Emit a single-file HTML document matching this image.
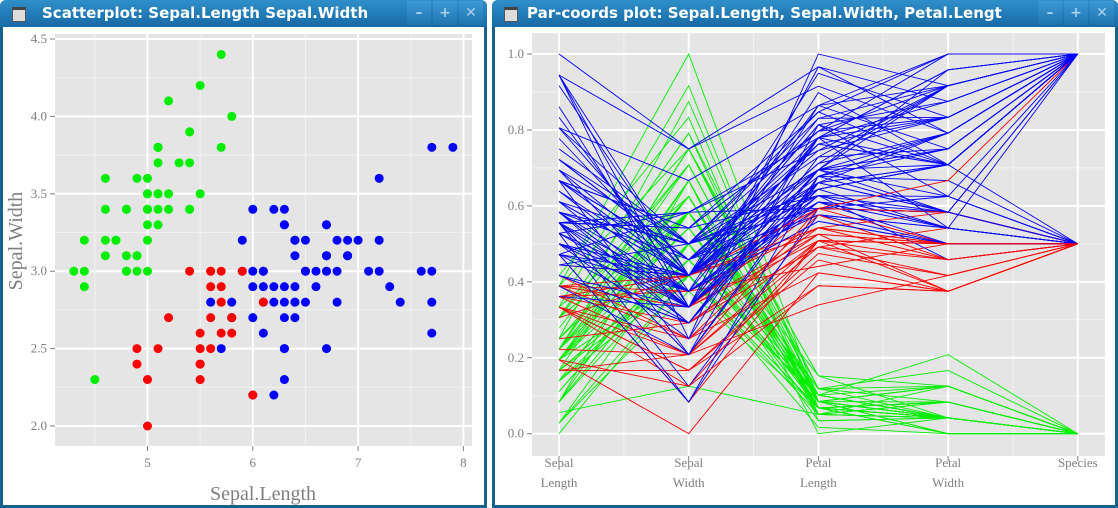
<!DOCTYPE html>
<html><head><meta charset="utf-8"><style>
body{margin:0;width:1118px;height:508px;background:#fff;overflow:hidden;position:relative;font-family:"Liberation Sans",sans-serif}
.win{position:absolute;top:0;height:508px;background:#fff;box-sizing:border-box;border:3px solid #16628f;border-top:none;border-radius:6px 6px 0 0}
.tb{position:absolute;left:-3px;right:-3px;top:0;height:27px;background:linear-gradient(#2f8fca,#176aa6);border-radius:6px 6px 0 0;color:#fff;font:bold 15px "DejaVu Sans",sans-serif;line-height:27px;white-space:nowrap;overflow:hidden}
.ic{position:absolute;left:12px;top:7px;width:12px;height:11px;background:#ddd;border:1px solid #555;border-top:3px solid #444}
.btns{position:absolute;right:4px;top:1px;height:24px;display:flex}
.btns div{width:24px;height:24px;margin-left:2px;background:linear-gradient(#3c9ad4,#1f74b0);color:#a9d0ec;text-align:center;line-height:24px;font-size:14px}
svg{position:absolute;left:0;top:0}
</style></head><body>
<div class="win" style="left:0;width:487px">
<div class="tb"><div class="ic"></div><span style="position:absolute;left:42px">Scatterplot: Sepal.Length Sepal.Width</span>
<div class="btns"><div>–</div><div>+</div><div>✕</div></div></div>
</div>
<div class="win" style="left:492px;width:626px">
<div class="tb"><div class="ic"></div><span style="position:absolute;left:35px">Par-coords plot: Sepal.Length, Sepal.Width, Petal.Lengt</span>
<div class="btns"><div>–</div><div>+</div><div>✕</div></div></div>
</div>
<svg id="s" width="1118" height="508"></svg>
<script>
const sepalLength=[5.1,4.9,4.7,4.6,5.0,5.4,4.6,5.0,4.4,4.9,5.4,4.8,4.8,4.3,5.8,5.7,5.4,5.1,5.7,5.1,5.4,5.1,4.6,5.1,4.8,5.0,5.0,5.2,5.2,4.7,4.8,5.4,5.2,5.5,4.9,5.0,5.5,4.9,4.4,5.1,5.0,4.5,4.4,5.0,5.1,4.8,5.1,4.6,5.3,5.0,
7.0,6.4,6.9,5.5,6.5,5.7,6.3,4.9,6.6,5.2,5.0,5.9,6.0,6.1,5.6,6.7,5.6,5.8,6.2,5.6,5.9,6.1,6.3,6.1,6.4,6.6,6.8,6.7,6.0,5.7,5.5,5.5,5.8,6.0,5.4,6.0,6.7,6.3,5.6,5.5,5.5,6.1,5.8,5.0,5.6,5.7,5.7,6.2,5.1,5.7,
6.3,5.8,7.1,6.3,6.5,7.6,4.9,7.3,6.7,7.2,6.5,6.4,6.8,5.7,5.8,6.4,6.5,7.7,7.7,6.0,6.9,5.6,7.7,6.3,6.7,7.2,6.2,6.1,6.4,7.2,7.4,7.9,6.4,6.3,6.1,7.7,6.3,6.4,6.0,6.9,6.7,6.9,5.8,6.8,6.7,6.7,6.3,6.5,6.2,5.9];
const sepalWidth=[3.5,3.0,3.2,3.1,3.6,3.9,3.4,3.4,2.9,3.1,3.7,3.4,3.0,3.0,4.0,4.4,3.9,3.5,3.8,3.8,3.4,3.7,3.6,3.3,3.4,3.0,3.4,3.5,3.4,3.2,3.1,3.4,4.1,4.2,3.1,3.2,3.5,3.6,3.0,3.4,3.5,2.3,3.2,3.5,3.8,3.0,3.8,3.2,3.7,3.3,
3.2,3.2,3.1,2.3,2.8,2.8,3.3,2.4,2.9,2.7,2.0,3.0,2.2,2.9,2.9,3.1,3.0,2.7,2.2,2.5,3.2,2.8,2.5,2.8,2.9,3.0,2.8,3.0,2.9,2.6,2.4,2.4,2.7,2.7,3.0,3.4,3.1,2.3,3.0,2.5,2.6,3.0,2.6,2.3,2.7,3.0,2.9,2.9,2.5,2.8,
3.3,2.7,3.0,2.9,3.0,3.0,2.5,2.9,2.5,3.6,3.2,2.7,3.0,2.5,2.8,3.2,3.0,3.8,2.6,2.2,3.2,2.8,2.8,2.7,3.3,3.2,2.8,3.0,2.8,3.0,2.8,3.8,2.8,2.8,2.6,3.0,3.4,3.1,3.0,3.1,3.1,3.1,2.7,3.2,3.3,3.0,2.5,3.0,3.4,3.0];
const petalLength=[1.4,1.4,1.3,1.5,1.4,1.7,1.4,1.5,1.4,1.5,1.5,1.6,1.4,1.1,1.2,1.5,1.3,1.4,1.7,1.5,1.7,1.5,1.0,1.7,1.9,1.6,1.6,1.5,1.4,1.6,1.6,1.5,1.5,1.4,1.5,1.2,1.3,1.4,1.3,1.5,1.3,1.3,1.3,1.6,1.9,1.4,1.6,1.4,1.5,1.4,
4.7,4.5,4.9,4.0,4.6,4.5,4.7,3.3,4.6,3.9,3.5,4.2,4.0,4.7,3.6,4.4,4.5,4.1,4.5,3.9,4.8,4.0,4.9,4.7,4.3,4.4,4.8,5.0,4.5,3.5,3.8,3.7,3.9,5.1,4.5,4.5,4.7,4.4,4.1,4.0,4.4,4.6,4.0,3.3,4.2,4.2,4.2,4.3,3.0,4.1,
6.0,5.1,5.9,5.6,5.8,6.6,4.5,6.3,5.8,6.1,5.1,5.3,5.5,5.0,5.1,5.3,5.5,6.7,6.9,5.0,5.7,4.9,6.7,4.9,5.7,6.0,4.8,4.9,5.6,5.8,6.1,6.4,5.6,5.1,5.6,6.1,5.6,5.5,4.8,5.4,5.6,5.1,5.1,5.9,5.7,5.2,5.0,5.2,5.4,5.1];
const petalWidth=[0.2,0.2,0.2,0.2,0.2,0.4,0.3,0.2,0.2,0.1,0.2,0.2,0.1,0.1,0.2,0.4,0.4,0.3,0.3,0.3,0.2,0.4,0.2,0.5,0.2,0.2,0.4,0.2,0.2,0.2,0.2,0.4,0.1,0.2,0.2,0.2,0.2,0.1,0.2,0.2,0.3,0.3,0.2,0.6,0.4,0.3,0.2,0.2,0.2,0.2,
1.4,1.5,1.5,1.3,1.5,1.3,1.6,1.0,1.3,1.4,1.0,1.5,1.0,1.4,1.3,1.4,1.5,1.0,1.5,1.1,1.8,1.3,1.5,1.2,1.3,1.4,1.4,1.7,1.5,1.0,1.1,1.0,1.2,1.6,1.5,1.6,1.5,1.3,1.3,1.3,1.2,1.4,1.2,1.0,1.3,1.2,1.3,1.3,1.1,1.3,
2.5,1.9,2.1,1.8,2.2,2.1,1.7,1.8,1.8,2.5,2.0,1.9,2.1,2.0,2.4,2.3,1.8,2.2,2.3,1.5,2.3,2.0,2.0,1.8,2.1,1.8,1.8,1.8,2.1,1.6,1.9,2.0,2.2,1.5,1.4,2.3,2.4,1.8,1.8,2.1,2.4,2.3,1.9,2.3,2.5,2.3,1.9,2.0,2.3,1.8];
const species=[];for(let i=0;i<150;i++)species.push(i<50?0:i<100?1:2);
const xTicks=[5,6,7,8], yTicks=[2.0,2.5,3.0,3.5,4.0,4.5], pTicks=[0,0.2,0.4,0.6,0.8,1.0];
const axisNames=[["Sepal","Length"],["Sepal","Width"],["Petal","Length"],["Petal","Width"],["Species",""]];

const NS="http://www.w3.org/2000/svg", svg=document.getElementById('s');
function mk(t,a,p){const e=document.createElementNS(NS,t);for(const k in a)e.setAttribute(k,a[k]);(p||svg).appendChild(e);return e;}
function color(i){if(species[i]===0)return '#00ee00';
 const sl=sepalLength[i],pl=petalLength[i];
 if(sl<=6.1&&pl<=4.5&&!(sl>=6.0&&pl>=4.5))return '#ff0000';return '#0000ff';}
const tf='"Liberation Serif",serif';
// scatter
const sx=v=>147.5+(v-5)*105.3, sy=v=>426-(v-2)*154.8;
let g=mk('g',{});
mk('rect',{x:55,y:34,width:417,height:412,fill:'#e5e5e5'},g);
for(let v=4.5;v<8.3;v+=1){mk('line',{x1:sx(v),x2:sx(v),y1:34,y2:446,stroke:'#f2f2f2','stroke-width':1},g);}
for(let v=2.25;v<4.6;v+=0.5){mk('line',{x1:55,x2:472,y1:sy(v),y2:sy(v),stroke:'#f2f2f2','stroke-width':1},g);}
xTicks.forEach(v=>{mk('line',{x1:sx(v),x2:sx(v),y1:34,y2:446,stroke:'#fff','stroke-width':2},g);
 mk('line',{x1:sx(v),x2:sx(v),y1:446,y2:451,stroke:'#7f7f7f'},g);
 const t=mk('text',{x:sx(v),y:467,'text-anchor':'middle','font-size':13,fill:'#7f7f7f','font-family':tf},g);t.textContent=v;
 });
yTicks.forEach(v=>{mk('line',{x1:55,x2:472,y1:sy(v),y2:sy(v),stroke:'#fff','stroke-width':2},g);
 mk('line',{x1:50,x2:55,y1:sy(v),y2:sy(v),stroke:'#7f7f7f'},g);
 const t=mk('text',{x:47,y:sy(v)+4,'text-anchor':'end','font-size':13,fill:'#7f7f7f','font-family':tf},g);t.textContent=v.toFixed(1);
 });
const order=[];for(let i=0;i<150;i++)if(color(i)!=='#ff0000')order.push(i);for(let i=0;i<150;i++)if(color(i)==='#ff0000')order.push(i);
order.forEach(i=>{const c=mk('circle',{cx:sx(sepalLength[i]),cy:sy(sepalWidth[i]),r:4.5,fill:color(i)},g);
 });
let t=mk('text',{x:263,y:500,'text-anchor':'middle','font-size':20,fill:'#7f7f7f','font-family':tf});t.textContent='Sepal.Length';

t=mk('text',{x:0,y:0,'text-anchor':'middle','font-size':20,fill:'#7f7f7f','font-family':tf,transform:'translate(22,241) rotate(-90)'});t.textContent='Sepal.Width';

// parcoords
const vars=[sepalLength,sepalWidth,petalLength,petalWidth,species];
const mins=vars.map(a=>Math.min(...a)), maxs=vars.map(a=>Math.max(...a));
const px=k=>559+k*129.7, py=v=>433.7-v*379.7;
g=mk('g',{});
mk('rect',{x:532,y:33,width:573,height:423,fill:'#e5e5e5'},g);
for(let k=0;k<4;k++){const x=px(k+0.5);mk('line',{x1:x,x2:x,y1:33,y2:456,stroke:'#f2f2f2'},g);}
for(let v=0.1;v<1.05;v+=0.2){mk('line',{x1:532,x2:1105,y1:py(v),y2:py(v),stroke:'#f2f2f2'},g);}
pTicks.forEach(v=>{mk('line',{x1:532,x2:1105,y1:py(v),y2:py(v),stroke:'#fff','stroke-width':2},g);
 mk('line',{x1:527,x2:532,y1:py(v),y2:py(v),stroke:'#7f7f7f'},g);
 const t=mk('text',{x:524,y:py(v)+4,'text-anchor':'end','font-size':13,fill:'#7f7f7f','font-family':tf},g);t.textContent=v.toFixed(1);
 });
axisNames.forEach((n,k)=>{mk('line',{x1:px(k),x2:px(k),y1:33,y2:456,stroke:'#fff','stroke-width':2},g);
 mk('line',{x1:px(k),x2:px(k),y1:456,y2:461,stroke:'#7f7f7f'},g);
 const t=mk('text',{x:px(k),y:467,'text-anchor':'middle','font-size':13,fill:'#7f7f7f','font-family':tf},g);
 
 mk('tspan',{x:px(k),dy:0},t).textContent=n[0];mk('tspan',{x:px(k),dy:20},t).textContent=n[1];});
for(let i=0;i<150;i++){const pts=vars.map((a,k)=>px(k)+','+py((a[i]-mins[k])/(maxs[k]-mins[k]))).join(' ');
 const l=mk('polyline',{points:pts,fill:'none',stroke:color(i),'stroke-width':0.9},g);
 }
</script>
</body></html>
